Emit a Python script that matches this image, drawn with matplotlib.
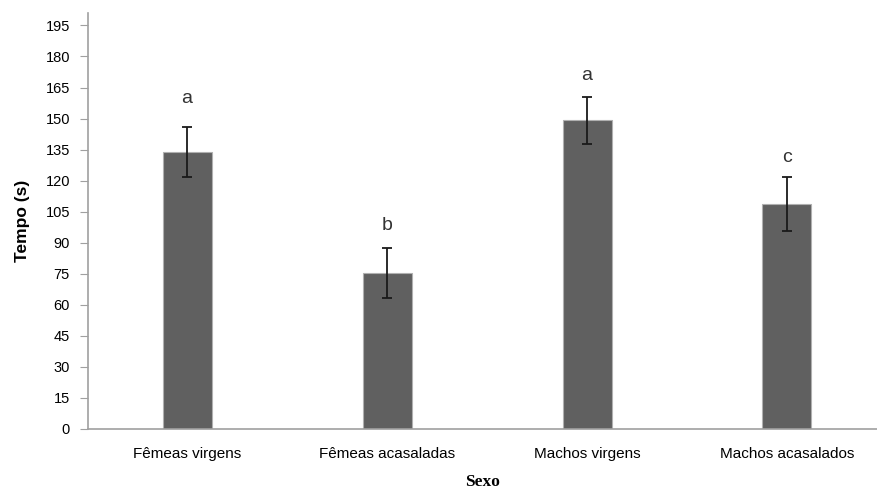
import matplotlib.pyplot as plt
import numpy as np

grupos = ["Fêmeas virgens", "Fêmeas acasaladas", "Machos virgens", "Machos acasalados"]
tempo = [133.8, 75.4, 149.1, 108.9]
erro = [12.2, 12.2, 11.5, 13.0]
letras = ["a", "b", "a", "c"]
letra_y = [157.5, 96.0, 168.5, 129.0]

def main():
    plt.rcParams["font.family"] = ["Liberation Sans", "DejaVu Sans"]
    fig = plt.figure(figsize=(8.77, 4.92), dpi=100)
    ax = fig.add_axes([88 / 877, 63 / 492, 789 / 877, 416 / 492])

    x = np.arange(len(grupos))
    ax.bar(x, tempo, width=0.245, color="#606060", edgecolor="#b0b0b0", linewidth=0.8,
           yerr=erro, error_kw=dict(ecolor="#1a1a1a", elinewidth=1.3, capsize=3.3, capthick=1.3))

    # letras de significancia
    for xi, ly, l in zip(x, letra_y, letras):
        ax.text(xi, ly, l, ha="center", va="baseline", fontsize=14, color="#333333")

    ax.set_xlim(-0.495, 3.45)
    ax.set_ylim(0, 201)
    ax.set_yticks(np.arange(0, 196, 15))
    ax.set_xticks(x)
    ax.set_xticklabels(grupos, fontsize=11)
    ax.tick_params(axis="x", length=0, pad=13)
    ax.tick_params(axis="y", length=6, color="#a0a0a0", labelsize=10.5, pad=7)

    for s in ["top", "right"]:
        ax.spines[s].set_visible(False)
    for s in ["left", "bottom"]:
        ax.spines[s].set_color("#a0a0a0")
        ax.spines[s].set_linewidth(1.2)

    ax.set_ylabel("Tempo (s)", fontsize=12.5, fontweight="bold", labelpad=11)
    ax.set_xlabel("Sexo", fontsize=12.5, fontweight="bold", family="Liberation Serif", labelpad=9)

    plt.savefig("out.png", dpi=100)

if __name__ == "__main__":
    main()
